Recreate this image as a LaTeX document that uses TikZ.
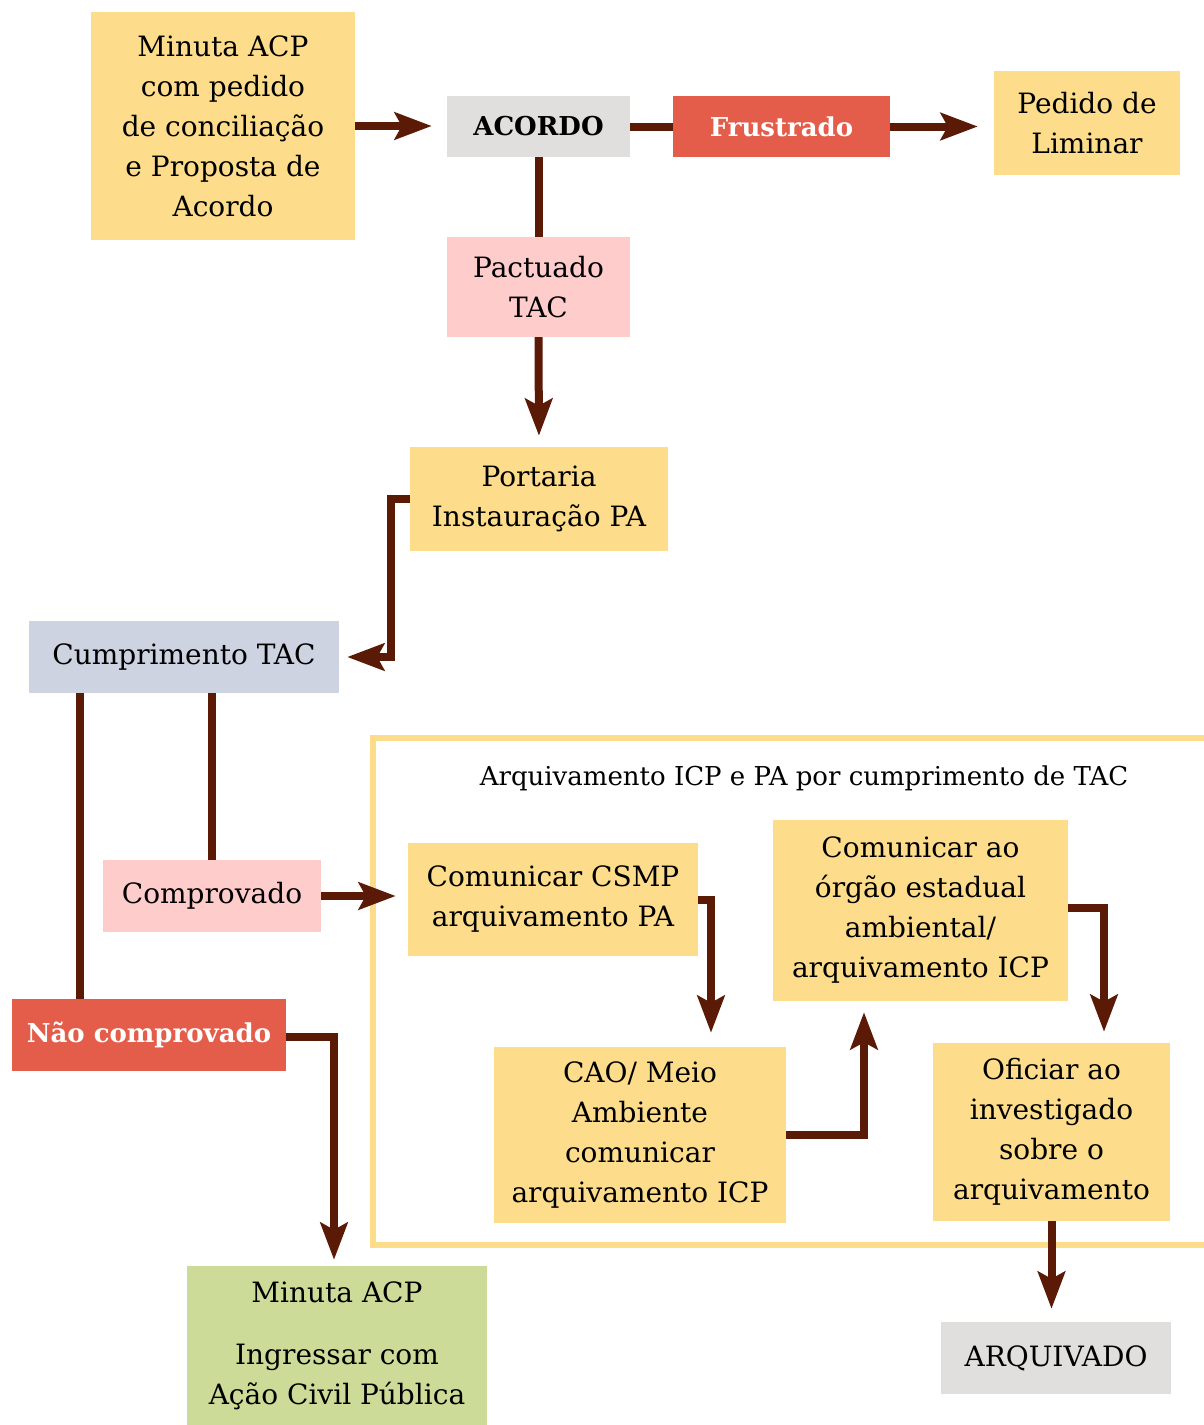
\documentclass[tikz,border=0pt]{standalone}
\usepackage{fontspec}
\setmainfont{DejaVu Serif}
\usetikzlibrary{arrows.meta}
\definecolor{boxyellow}{HTML}{FDDD8B}
\definecolor{boxred}{HTML}{E35D4A}
\definecolor{boxpink}{HTML}{FFCCCC}
\definecolor{boxgrey}{HTML}{E0DFDE}
\definecolor{boxblue}{HTML}{CDD3E0}
\definecolor{boxgreen}{HTML}{CCDC98}
\definecolor{flowbrown}{HTML}{5A1A06}
\tikzset{
  box/.style={inner sep=0pt, align=center, font=\fontsize{28}{40}\selectfont, text=black},
  yel/.style={box, fill=boxyellow},
  pnk/.style={box, fill=boxpink},
  gry/.style={box, fill=boxgrey},
  blu/.style={box, fill=boxblue},
  grn/.style={box, fill=boxgreen},
  rd/.style={box, fill=boxred, text=white, font=\fontsize{26}{40}\selectfont\bfseries},
  link/.style={draw=flowbrown, line width=8pt},
  flow/.style={link, -{Stealth[length=37pt,width=27pt,inset=7pt]}},
}
\begin{document}
\begin{tikzpicture}[x=1pt,y=-1pt]
\useasboundingbox (0,0) rectangle (1204,1425);

% frame around the archiving steps
\draw[boxyellow, line width=6pt] (373,738) rectangle (1215,1245);
\node[box, font=\fontsize{26}{30}\selectfont] (title) at (804,778) {Arquivamento ICP e PA por cumprimento de TAC};

% boxes
\node[yel, minimum width=264pt, minimum height=228pt] (minuta) at (223,126) {Minuta ACP\\com pedido\\de conciliação\\e Proposta de\\Acordo};
\node[gry, minimum width=183pt, minimum height=61pt, font=\fontsize{26}{40}\selectfont\bfseries] (acordo) at (538.5,126.5) {ACORDO};
\node[rd, minimum width=217pt, minimum height=61pt] (frust) at (781.5,126.5) {Frustrado};
\node[yel, minimum width=186pt, minimum height=104pt] (pedido) at (1087,123) {Pedido de\\Liminar};
\node[pnk, minimum width=183pt, minimum height=100pt] (pact) at (538.5,287) {Pactuado\\TAC};
\node[yel, minimum width=258pt, minimum height=104pt] (portaria) at (539,499) {Portaria\\Instauração PA};
\node[blu, minimum width=310pt, minimum height=72pt] (cump) at (184,657) {Cumprimento TAC};
\node[pnk, minimum width=218pt, minimum height=72pt] (comp) at (212,896) {Comprovado};
\node[rd, minimum width=274pt, minimum height=72pt] (nao) at (149,1035) {Não comprovado};
\node[grn, minimum width=300pt, minimum height=159pt] (green) at (337,1345.5) {Minuta ACP\\[22pt]Ingressar com\\Ação Civil Pública};
\node[yel, minimum width=290pt, minimum height=113pt] (csmp) at (553,899.5) {Comunicar CSMP\\arquivamento PA};
\node[yel, minimum width=292pt, minimum height=176pt] (cao) at (640,1135) {CAO/ Meio\\Ambiente\\comunicar\\arquivamento ICP};
\node[yel, minimum width=295pt, minimum height=181pt] (organ) at (920.5,910.5) {Comunicar ao\\órgão estadual\\ambiental/\\arquivamento ICP};
\node[yel, minimum width=237pt, minimum height=178pt] (ofic) at (1051.5,1132) {Oficiar ao\\investigado\\sobre o\\arquivamento};
\node[gry, minimum width=230pt, minimum height=72pt] (arq) at (1056,1358) {ARQUIVADO};

% connectors
\draw[flow, shorten >=15pt] (minuta.east) -- (minuta.east -| acordo.west);
\draw[link] (acordo.east) -- (frust.west);
\draw[flow, shorten >=16pt] (frust.east) -- (frust.east -| pedido.west);
\draw[link] (acordo.south) -- (pact.north);
\draw[flow, shorten >=11pt] (pact.south) -- (portaria.north);
\draw[flow, shorten >=8pt] (portaria.west) -- ++(-19,0) |- (cump.east);
\draw[link] (comp.north) -- (comp.north |- cump.south);
\draw[link] ([xshift=-69pt]nao.north) -- ([xshift=-69pt]nao.north |- cump.south);
\draw[flow, shorten >=12pt] (comp.east) -- (comp.east -| csmp.west);
\draw[flow, shorten >=6pt] ([yshift=-2pt]nao.east) -| ([xshift=-3pt]green.north);
\draw[flow, shorten >=14pt] (csmp.east) -| ([xshift=71pt]cao.north);
\draw[flow, shorten >=11pt] (cao.east) -| ([xshift=-56.5pt]organ.south);
\draw[flow, shorten >=11pt] ([yshift=2.5pt]organ.east) -| ([xshift=52.5pt]ofic.north);
\draw[flow, shorten >=13pt] (ofic.south) -- (ofic.south |- arq.north);
\end{tikzpicture}
\end{document}
